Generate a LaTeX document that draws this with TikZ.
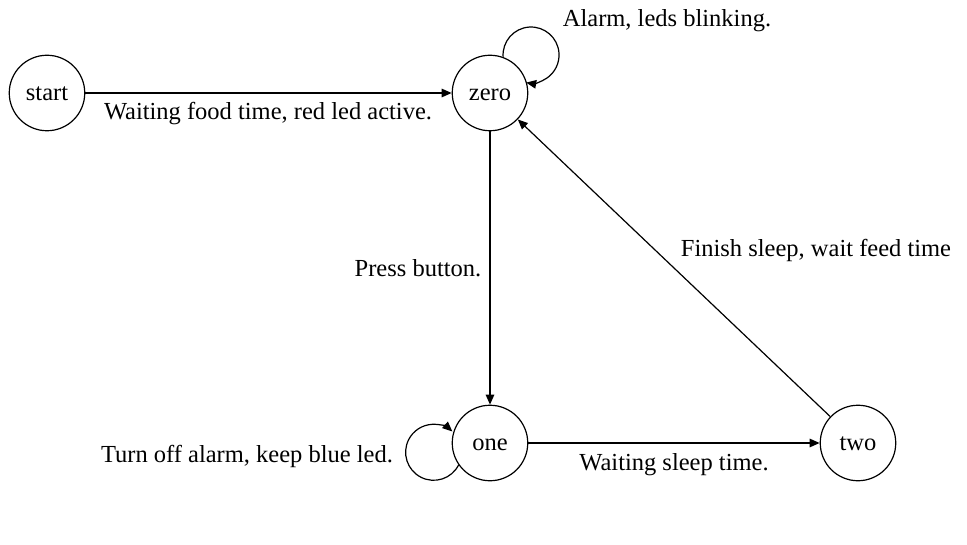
\documentclass[tikz,border=0pt]{standalone}
\usepackage{fontspec}
\setmainfont{Liberation Serif}
\usetikzlibrary{arrows.meta}
\begin{document}
\begin{tikzpicture}[x=1pt,y=-1pt,
  every node/.style={font=\fontsize{24.5}{29}\selectfont},
  state/.style={draw,circle,line width=1.2pt,minimum size=75.5pt,inner sep=0pt,text height=15pt,text depth=0pt},
  lbl/.style={anchor=base,inner sep=0pt},
  conn/.style={line width=1.2pt,-{Triangle[length=10pt,width=8.5pt]}}]
\useasboundingbox (0,0) rectangle (967,545);
\node[state] (start) at (47,93) {start};
\node[state] (zero) at (490,93) {zero};
\node[state] (one) at (490,443) {one};
\node[state] (two) at (858,443) {two};
\draw[conn] (start) -- (zero);
\draw[conn] (zero) -- (one);
\draw[conn] (one) -- (two);
\draw[conn] (two) -- (zero);
\draw[conn] (zero.70) arc[start angle=176,end angle=460,radius=28];
\draw[conn] (one.215) arc[start angle=27,end angle=312,radius=28];
\node[lbl] (l1) at (268,120) {Waiting food time, red led active.};
\node[lbl] (l2) at (667,27) {Alarm, leds blinking.};
\node[lbl] (l3) at (418,277) {Press button.};
\node[lbl] (l4) at (816,257) {Finish sleep, wait feed time};
\node[lbl] (l5) at (247,462) {Turn off alarm, keep blue led.};
\node[lbl] (l6) at (674,470) {Waiting sleep time.};
\end{tikzpicture}
\end{document}
